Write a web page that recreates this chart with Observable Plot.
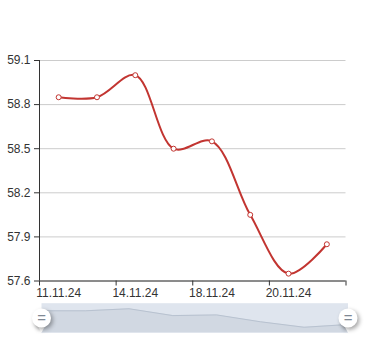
<!DOCTYPE html>
<html>
<head>
<meta charset="utf-8">
<script src="https://cdn.jsdelivr.net/npm/d3@7"></script>
<script src="https://cdn.jsdelivr.net/npm/@observablehq/plot@0.6"></script>
<style>
  html, body { margin: 0; padding: 0; background: #fff; }
  #wrap { width: 384px; height: 340px; position: relative; overflow: hidden; }
  #wrap svg { display: block; overflow: visible; }
  .handle circle, .handle path { filter: drop-shadow(2px 2px 2px rgba(0,0,0,0.35)); }
</style>
</head>
<body>
<div id="wrap"></div>
<script>
const dates = ["11.11.24", "12.11.24", "14.11.24", "15.11.24", "18.11.24", "19.11.24", "20.11.24", "21.11.24"];
const values = [58.85, 58.85, 59.00, 58.50, 58.55, 58.05, 57.65, 57.85];
const yTicks = [57.6, 57.9, 58.2, 58.5, 58.8, 59.1];
const labelIdx = [0, 2, 4, 6];

const data = dates.map((d, i) => ({i, date: d, value: values[i]}));
const boundaries = d3.range(0, dates.length + 1, 2).map(k => k - 0.5);
const font = "'Liberation Sans', Arial, sans-serif";

const main = Plot.plot({
  width: 384,
  height: 300,
  marginTop: 60,
  marginBottom: 19.5,
  marginLeft: 39,
  marginRight: 38.5,
  x: {type: "linear", domain: [-0.5, dates.length - 0.5]},
  y: {domain: [yTicks[0], yTicks[yTicks.length - 1]]},
  style: {fontFamily: font, fontSize: "12px", color: "#333", background: "transparent"},
  marks: [
    Plot.gridY(yTicks, {stroke: "#ccc", strokeOpacity: 1}),
    Plot.axisY(yTicks, {tickSize: 5, tickPadding: 4, tickFormat: d => d.toFixed(1), label: null, stroke: "#333"}),
    Plot.ruleX([-0.5], {stroke: "#333"}),
    Plot.ruleY([yTicks[0]], {stroke: "#333"}),
    Plot.axisX(boundaries, {tickSize: 5, tickFormat: () => "", label: null, stroke: "#333"}),
    Plot.axisX(labelIdx, {tickSize: 0, tickPadding: 7, tickFormat: i => dates[i], label: null}),
    Plot.line(data, {x: "i", y: "value", curve: "catmull-rom", stroke: "#c23531", strokeWidth: 2}),
    Plot.dot(data, {x: "i", y: "value", r: 2.5, fill: "white", stroke: "#c23531", strokeWidth: 1})
  ]
});

const lo = d3.min(values), hi = d3.max(values);
const pad = (hi - lo) * 0.3;
const mid = (lo + hi) / 2;
const handles = [{i: 0, y: mid}, {i: dates.length - 1, y: mid}];

const slider = Plot.plot({
  width: 384,
  height: 40,
  marginTop: 2.7,
  marginBottom: 7.7,
  marginLeft: 41,
  marginRight: 36.5,
  x: {domain: [0, dates.length - 1], axis: null},
  y: {domain: [lo - pad, hi + pad], axis: null},
  style: {fontFamily: font, background: "transparent"},
  marks: [
    Plot.frame({fill: "#dfe5ee", stroke: null}),
    Plot.areaY(data, {x: "i", y1: lo - pad, y2: "value", fill: "#d1d8e2"}),
    Plot.line(data, {x: "i", y: "value", stroke: "#b8c2d0", strokeWidth: 1}),
    Plot.dot(handles, {x: "i", y: "y", symbol: "triangle", rotate: 180, r: 3.5, dy: 9, fill: "white", className: "handle"}),
    Plot.dot(handles, {x: "i", y: "y", r: 9.5, fill: "white", className: "handle"}),
    Plot.text(handles, {x: "i", y: "y", text: () => "=", fontSize: 15, fill: "#7f8894", dy: 0})
  ]
});

const wrap = document.getElementById("wrap");
wrap.appendChild(main);
wrap.appendChild(slider);
</script>
</body>
</html>
